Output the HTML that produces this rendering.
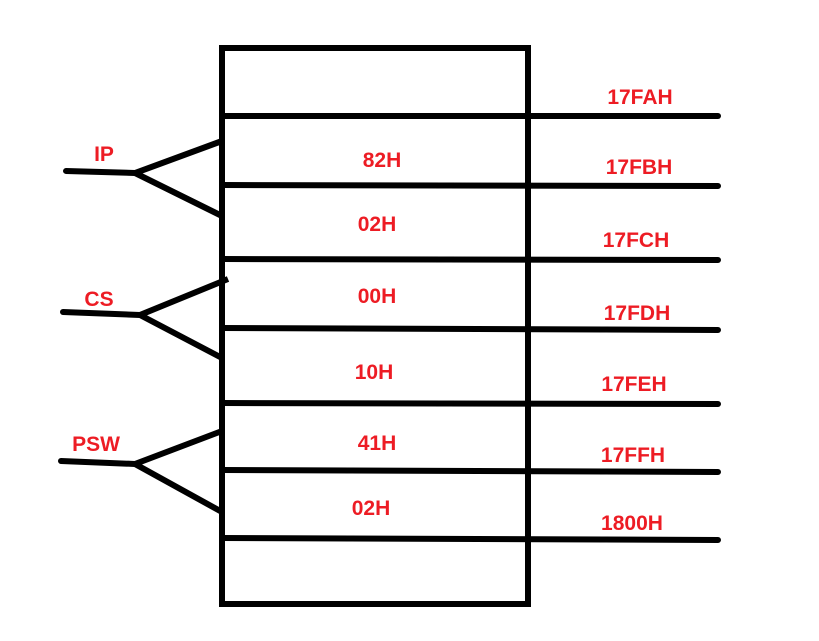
<!DOCTYPE html>
<html><head><meta charset="utf-8"><style>
html,body{margin:0;padding:0;background:#fff;}
svg{display:block;}
text{font-family:"Liberation Sans",sans-serif;font-weight:bold;font-size:21px;fill:#ed1c24;}
</style></head><body>
<svg width="819" height="641" viewBox="0 0 819 641" xmlns="http://www.w3.org/2000/svg">
<g stroke="#000" stroke-width="6" fill="none" stroke-linecap="round">
<rect x="222" y="48" width="306" height="556" stroke-linecap="butt"/>
<line x1="222" y1="116" x2="718" y2="116"/>
<line x1="222" y1="185" x2="718" y2="186"/>
<line x1="222" y1="259" x2="718" y2="260"/>
<line x1="222" y1="328" x2="718" y2="330"/>
<line x1="222" y1="403" x2="718" y2="404"/>
<line x1="222" y1="470" x2="718" y2="472"/>
<line x1="222" y1="538" x2="718" y2="540"/>
<polyline points="66,171 135,173" />
<polyline points="222,141 135,173 222,216" stroke-linecap="butt"/>
<polyline points="63,312 140,315" />
<polyline points="228,279 140,315 222,358" stroke-linecap="butt"/>
<polyline points="61,461 135,464" />
<polyline points="222,431 135,464 222,512" stroke-linecap="butt"/>
</g>
<g text-anchor="middle">
<text x="640" y="104">17FAH</text>
<text x="639" y="174">17FBH</text>
<text x="636" y="247">17FCH</text>
<text x="637" y="320">17FDH</text>
<text x="634" y="391">17FEH</text>
<text x="633" y="462">17FFH</text>
<text x="632" y="530">1800H</text>
<text x="382" y="167">82H</text>
<text x="377" y="231">02H</text>
<text x="377" y="303">00H</text>
<text x="374" y="379">10H</text>
<text x="377" y="450">41H</text>
<text x="371" y="515">02H</text>
<text x="104" y="161">IP</text>
<text x="99" y="306">CS</text>
<text x="96" y="451">PSW</text>
</g>
</svg>
</body></html>
